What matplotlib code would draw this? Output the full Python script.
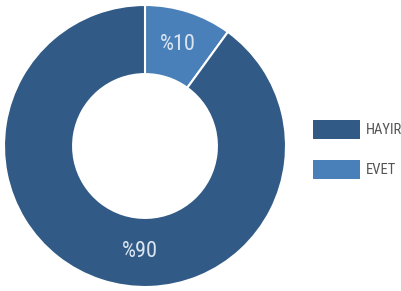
import matplotlib
matplotlib.use("Agg")
import matplotlib.pyplot as plt
import matplotlib.patches as mpatches
import numpy as np

categories = ["EVET", "HAYIR"]
values = [10, 90]
labels = ["%10", "%90"]
legend_order = ["HAYIR", "EVET"]
colors = {"EVET": "#4a80ba", "HAYIR": "#315b86"}

plt.rcParams['font.family'] = ['Roboto Condensed', 'DejaVu Sans']

W, H = 401, 291
fig = plt.figure(figsize=(W / 100, H / 100), dpi=100)
ax = fig.add_axes([4 / W, 4 / H, 282 / W, 282 / H])

wedges, _ = ax.pie(values, colors=[colors[c] for c in categories],
                   startangle=90, counterclock=False, radius=1.0,
                   wedgeprops=dict(width=0.49, edgecolor="white", linewidth=1.5))
ax.set_xlim(-1, 1)
ax.set_ylim(-1, 1)
ax.set_aspect("equal")
ax.axis("off")

# label positions (angles in degrees clockwise from top, radius)
label_pos = {"%10": (18, 0.755), "%90": (183, 0.75)}
for lab in labels:
    ang, r = label_pos[lab]
    a = np.deg2rad(ang)
    ax.text(r * np.sin(a), r * np.cos(a), lab, ha="center", va="center",
            color="#dbe5f0", fontsize=16)

fs = 10.5
px = fs * 100 / 72.0
target_pt = 19 * 0.72
hh = (target_pt / fs - 0.245) / 0.65
handles = [mpatches.Patch(facecolor=colors[c], edgecolor="none") for c in legend_order]
fig.legend(handles, legend_order, loc="upper left",
           bbox_to_anchor=(313 / W, 1 - 120 / H), frameon=False,
           borderpad=0, borderaxespad=0, fontsize=fs,
           handlelength=47 / px, handleheight=hh, handletextpad=5.5 / px,
           labelspacing=21 / px, labelcolor="#555555")

fig.savefig("out.png", dpi=100)
